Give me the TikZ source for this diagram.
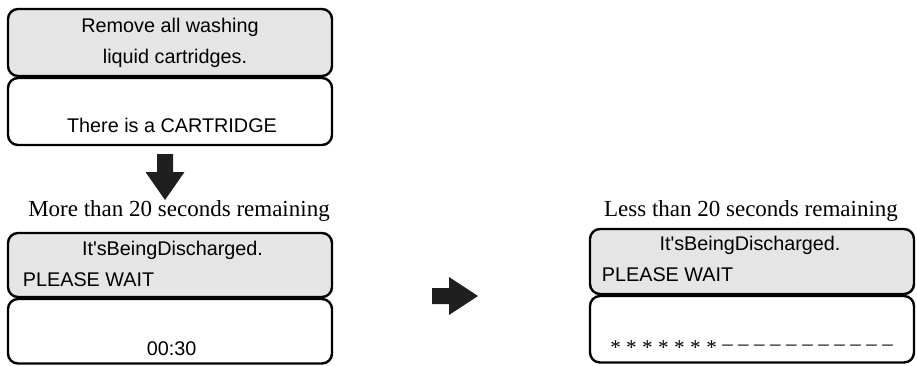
\documentclass[tikz,border=0pt]{standalone}
\usepackage{fontspec}
\setmainfont{Liberation Serif}
\newfontfamily\panelfont{Liberation Sans}
\usetikzlibrary{positioning}

\begin{document}
\begin{tikzpicture}[
  x=1pt, y=-1pt,
  screen/.style={draw, line width=2.4pt, rounded corners=10pt, minimum width=324pt, inner sep=0pt},
  upper/.style={screen, fill=gray!20},
  lower/.style={screen, fill=white},
  msg/.style={font=\panelfont\fontsize{19.8}{24}\selectfont, inner sep=0pt, anchor=base},
  caption/.style={font=\fontsize{23}{28}\selectfont, inner sep=0pt, anchor=base},
  blockarrow/.style={fill=black!88}
]
\useasboundingbox (0,0) rectangle (917,365);

\node[upper, minimum height=67pt] (remove) at (170,42.5) {};
\node[lower, minimum height=67pt] (cart) at (170,111.5) {};
\node[upper, minimum height=64pt] (busyL) at (170,265) {};
\node[lower, minimum height=64.5pt] (timeL) at (170,331.25) {};
\node[upper, minimum height=65pt] (busyR) at (752,261.5) {};
\node[lower, minimum height=66.5pt] (timeR) at (752,329.25) {};

\node[msg] (removeA) at (170,32.5) {Remove all washing};
\node[msg] (removeB) at (175,63.5) {liquid cartridges.};
\node[msg] (cartmsg) at (172,132.5) {There is a CARTRIDGE};

\node[caption] (more) at (179,216) {More than 20 seconds remaining};
\node[msg] (dischL) at (172.5,255) {It'sBeingDischarged.};
\node[msg, anchor=base west] (waitL) at (22.7,286) {PLEASE WAIT};
\node[msg] (count) at (171.7,355.7) {00:30};

\node[caption] (less) at (751,216.5) {Less than 20 seconds remaining};
\node[msg] (dischR) at (750,250) {It'sBeingDischarged.};
\node[msg, anchor=base west] (waitR) at (601.7,281.7) {PLEASE WAIT};
\node[inner sep=0pt, anchor=base, font=\fontsize{21}{24}\selectfont] (stars) at (751.5,350)
  {\spaceskip=5.5pt\relax\raisebox{-4pt}{* * * * * * *} – – – – – – – – – – –};

\coordinate (drop) at (165,154);
\coordinate (next) at (432,296);
\fill[blockarrow] (drop) ++(-8,0) -- ++(16,0) -- ++(0,18) -- ++(11.5,0)
  -- ++(-19.5,28) -- ++(-19.5,-28) -- ++(11.5,0) -- cycle;
\fill[blockarrow] (next) ++(0,-8) -- ++(17,0) -- ++(0,-11) -- ++(29,19)
  -- ++(-29,19) -- ++(0,-11) -- ++(-17,0) -- cycle;

\end{tikzpicture}
\end{document}
